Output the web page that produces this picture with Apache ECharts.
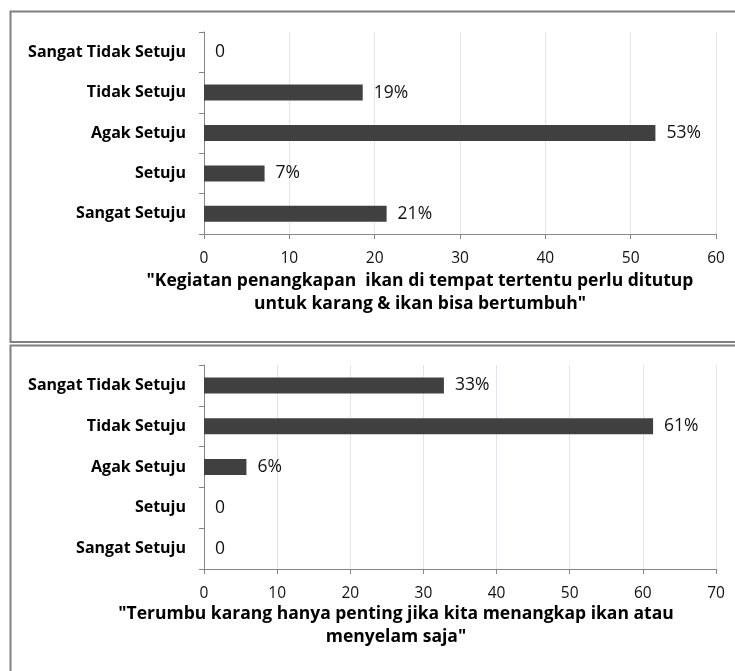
<!DOCTYPE html>
<html>
<head>
<meta charset="utf-8">
<style>html,body{margin:0;padding:0;background:#fff;}#c{width:735px;height:671px;}</style>
<script src="https://cdn.jsdelivr.net/npm/echarts@6/dist/echarts.min.js"></script>
</head>
<body>
<div id="c"></div>
<script>
var categories = ['Sangat Tidak Setuju', 'Tidak Setuju', 'Agak Setuju', 'Setuju', 'Sangat Setuju'];
var valuesTop = [0, 18.6, 52.9, 7.1, 21.4];
var valuesBottom = [32.8, 61.4, 5.8, 0, 0];
var ticksTop = [0, 10, 20, 30, 40, 50, 60];
var ticksBottom = [0, 10, 20, 30, 40, 50, 60, 70];
var titleTop = '"Kegiatan penangkapan  ikan di tempat tertentu perlu ditutup\nuntuk karang & ikan bisa bertumbuh"';
var titleBottom = '"Terumbu karang hanya penting jika kita menangkap ikan atau\nmenyelam saja"';

var FONT = '"Open Sans", "Noto Sans", sans-serif';
var chart = echarts.init(document.getElementById('c'), null, {renderer: 'canvas'});

function xAx(gridIndex, ticks) {
  return {
    type: 'value', gridIndex: gridIndex,
    min: ticks[0], max: ticks[ticks.length - 1], interval: ticks[1] - ticks[0],
    axisLine: {show: true, lineStyle: {color: '#868686', width: 1}},
    axisTick: {show: true, length: 5, lineStyle: {color: '#868686'}},
    splitLine: {show: true, lineStyle: {color: '#dce5f0', width: 1}},
    axisLabel: {color: '#111', fontFamily: FONT, fontSize: 15.5, margin: 17}
  };
}
function yAx(gridIndex) {
  return {
    type: 'category', gridIndex: gridIndex, data: categories, inverse: true,
    axisLine: {show: true, lineStyle: {color: '#868686', width: 1}},
    axisTick: {show: true, length: 5, lineStyle: {color: '#868686'}},
    splitLine: {show: false},
    axisLabel: {color: '#000', fontFamily: FONT, fontSize: 16, fontWeight: 'bold', margin: 18}
  };
}
function ser(idx, vals) {
  return {
    type: 'bar', xAxisIndex: idx, yAxisIndex: idx, data: vals, barWidth: 16,
    itemStyle: {color: '#404040', borderWidth: 0},
    label: {
      show: true, position: 'right', distance: 11, color: '#111',
      fontFamily: FONT, fontSize: 17.5,
      formatter: function (p) { return p.value === 0 ? '0' : Math.round(p.value) + '%'; }
    },
    silent: true, animation: false
  };
}

chart.setOption({
  animation: false,
  backgroundColor: '#fff',
  grid: [
    {left: 204, right: 19, top: 32, height: 202},
    {left: 204, right: 19, top: 365, height: 204}
  ],
  xAxis: [xAx(0, ticksTop), xAx(1, ticksBottom)],
  yAxis: [yAx(0), yAx(1)],
  series: [ser(0, valuesTop), ser(1, valuesBottom)],
  graphic: [
    {type: 'rect', shape: {x: 10.5, y: 11.5, width: 760, height: 330.5}, style: {fill: 'none', stroke: '#7f7f7f', lineWidth: 2}, silent: true, z: -1},
    {type: 'rect', shape: {x: 10.5, y: 345.5, width: 760, height: 360}, style: {fill: 'none', stroke: '#7f7f7f', lineWidth: 2}, silent: true, z: -1},
    {type: 'text', x: 420, y: 270, style: {text: titleTop, font: 'bold 17.5px ' + FONT, fill: '#000', textAlign: 'center', lineHeight: 23}, silent: true},
    {type: 'text', x: 396, y: 603, style: {text: titleBottom, font: 'bold 17.5px ' + FONT, fill: '#000', textAlign: 'center', lineHeight: 23}, silent: true}
  ]
});
</script>
</body>
</html>
